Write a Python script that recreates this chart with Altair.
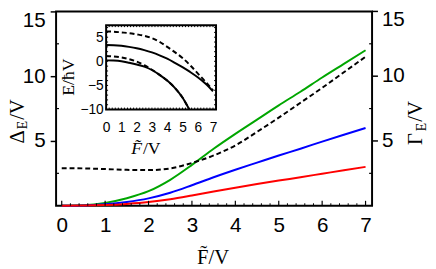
import altair as alt
import pandas as pd

# ---------------- data ----------------
main_x = [0.0, 0.5, 1.0, 1.5, 2.0, 2.5, 3.0, 3.5, 4.0, 4.5, 5.0, 5.5, 6.0, 6.5, 7.0]
green_vals = [0.0, 0.04, 0.22, 0.58, 1.12, 2.0, 3.15, 4.4, 5.55, 6.65, 7.75, 8.8, 9.9, 10.95, 12.0]
blue_vals = [0.0, 0.02, 0.11, 0.29, 0.57, 1.0, 1.58, 2.2, 2.78, 3.33, 3.88, 4.4, 4.95, 5.48, 6.0]
red_vals = [0.0, 0.01, 0.05, 0.14, 0.28, 0.5, 0.79, 1.1, 1.39, 1.67, 1.94, 2.2, 2.47, 2.74, 3.0]
dashed_vals = [2.9, 2.88, 2.83, 2.77, 2.75, 2.88, 3.3, 3.88, 4.65, 5.7, 6.8, 7.95, 9.1, 10.3, 11.5]

inset_x = [0.0, 0.5, 1.0, 1.5, 2.0, 2.5, 3.0, 3.5, 4.0, 4.5, 5.0, 5.5, 6.0, 6.5, 7.0]
inset_upper_dashed = [6.2, 6.15, 6.0, 5.85, 5.6, 5.3, 4.8, 4.05, 3.0, 1.9, 0.7, -0.8, -2.5, -4.2, -6.0]
inset_upper_solid = [3.4, 3.35, 3.22, 3.0, 2.72, 2.33, 1.85, 1.25, 0.55, -0.3, -1.2, -2.2, -3.3, -4.6, -6.2]
inset_lower_x = [0.0, 0.5, 1.0, 1.5, 2.0, 2.5, 3.0, 3.5, 4.0, 4.5, 5.0, 5.45]
inset_lower_dashed = [1.1, 1.0, 0.8, 0.45, -0.05, -0.8, -1.75, -2.8, -4.0, -5.5, -7.5, -10.0]
inset_lower_solid = [0.2, 0.15, 0.0, -0.3, -0.65, -1.1, -1.8, -2.8, -4.0, -5.5, -7.5, -10.0]

x_tick_labels = [0, 1, 2, 3, 4, 5, 6, 7]
y_tick_labels = [5, 10, 15]
y_minor = [2.5, 7.5, 12.5]
x_minor = [round(0.2 * i, 1) for i in range(36) if i % 5 != 0]
inset_x_labels = [0, 1, 2, 3, 4, 5, 6, 7]
inset_y_labels = [-10, -5, 0, 5]
inset_x_minor = [round(0.2 * i, 1) for i in range(37)]
inset_y_minor = list(range(-10, 8))

# ---------------- layout constants ----------------
W, H = 322, 198
IN_L, IN_R, IN_T, IN_B = 51, 163, 14, 100
SANS = "Liberation Sans"
SERIF = "Liberation Serif"
TOP_SHIFT = 9

xs = alt.Scale(domain=[-0.13, 7.15], nice=False, zero=False)
ys = alt.Scale(domain=[0, 15], nice=False, zero=False)

x_axis = alt.Axis(orient="bottom", values=x_tick_labels, ticks=False, tickSize=0, domain=False,
                  grid=False, labelFont=SANS, labelFontSize=21, labelColor="black",
                  labelPadding=9, labelFlush=False, title=None, format="d")
y_axis = alt.Axis(orient="left", values=y_tick_labels, tickSize=6, tickWidth=1.5, tickColor="black",
                  domain=False, grid=False, labelFont=SANS, labelFontSize=21, labelColor="black",
                  labelPadding=5, labelFlush=False, title=None, format="d",
                  labelOffset={"condition": {"test": "datum.value == 15", "value": TOP_SHIFT}, "value": 0})

X = alt.X("x:Q", scale=xs, axis=x_axis)
Y = alt.Y("v:Q", scale=ys, axis=y_axis)

main_df = pd.DataFrame({
    "x": main_x * 3,
    "v": green_vals + blue_vals + red_vals,
    "s": ["green"] * len(main_x) + ["blue"] * len(main_x) + ["red"] * len(main_x),
})
colored = alt.Chart(main_df).mark_line(strokeWidth=2, interpolate="monotone").encode(
    x=X, y=Y,
    color=alt.Color("s:N", scale=alt.Scale(domain=["green", "blue", "red"],
                                           range=["#00a600", "#0000ff", "#ff0000"]), legend=None),
)
dashed = alt.Chart(pd.DataFrame({"x": main_x, "v": dashed_vals})).mark_line(
    strokeWidth=2, color="black", strokeDash=[5, 3], interpolate="monotone").encode(x=X, y=Y)

bt_major = alt.Chart(pd.DataFrame({"x": x_tick_labels})).mark_rule(color="black", strokeWidth=1.2).encode(
    x=X, y=alt.value(H), y2=alt.value(H - 5))
bt_minor = alt.Chart(pd.DataFrame({"x": x_minor})).mark_rule(color="black", strokeWidth=1).encode(
    x=X, y=alt.value(H), y2=alt.value(H - 2.5))
left_minor = alt.Chart(pd.DataFrame({"v": y_minor})).mark_rule(color="black", strokeWidth=1.2).encode(
    y=Y, x=alt.value(0), x2=alt.value(3))
right_minor = alt.Chart(pd.DataFrame({"v": y_minor})).mark_rule(color="black", strokeWidth=1.2).encode(
    y=Y, x=alt.value(W), x2=alt.value(W - 3))
right_major = alt.Chart(pd.DataFrame({"v": y_tick_labels})).mark_rule(color="black", strokeWidth=1.5).encode(
    y=Y, x=alt.value(W), x2=alt.value(W + 6))
right_labels = alt.Chart(pd.DataFrame({"v": y_tick_labels[:-1]})).mark_text(
    font=SANS, fontSize=21, align="left", baseline="middle", color="black").encode(
    y=Y, x=alt.value(W + 10), text=alt.Text("v:Q", format="d"))
right_label_top = alt.Chart(pd.DataFrame({"v": y_tick_labels[-1:]})).mark_text(
    font=SANS, fontSize=21, align="left", baseline="middle", color="black", dy=TOP_SHIFT).encode(
    y=Y, x=alt.value(W + 10), text=alt.Text("v:Q", format="d"))


def txt(s, x, y, size, angle=0, align="left", style="normal", baseline="alphabetic"):
    mk = dict(font=SERIF, fontSize=size, align=align, baseline=baseline, color="black",
              fontStyle=style)
    if angle:
        mk["angle"] = angle
    return alt.Chart(pd.DataFrame({"t": [s]})).mark_text(**mk).encode(
        text="t:N", x=alt.value(x), y=alt.value(y))


titles = [
    txt("Δ", -33, 134.5, 21, 270),
    txt("E", -29.5, 120, 14, 270),
    txt("/V", -33, 110.5, 21, 270),
    txt("Γ", 373, 136, 21, 270),
    txt("E", 376.5, 122, 14, 270),
    txt("/V", 373, 112.5, 21, 270),
    txt("F\u0303/V", 160, 257, 21, 0, "center"),
]

main_group = alt.layer(colored, dashed, bt_major, bt_minor, left_minor, right_minor,
                       right_major, right_labels, right_label_top, *titles)

# ---------------- inset ----------------
ixs = alt.Scale(domain=[0, 7.2], range=[IN_L, IN_R], nice=False, zero=False)
iys = alt.Scale(domain=[-10, 7.5], range=[IN_B, IN_T], nice=False, zero=False)
ix_axis = alt.Axis(orient="bottom", offset=-(H - IN_B), values=inset_x_labels, ticks=False, tickSize=0,
                   domain=False, grid=False, labelFont=SANS, labelFontSize=14, labelColor="black",
                   labelPadding=11, labelFlush=False, title=None, format="d")
iy_axis = alt.Axis(orient="left", offset=-IN_L, values=inset_y_labels, ticks=False, tickSize=0,
                   domain=False, grid=False, labelFont=SANS, labelFontSize=14, labelColor="black",
                   labelPadding=3, labelFlush=False, title=None, format="d")
IX = alt.X("ix:Q", scale=ixs, axis=ix_axis)
IY = alt.Y("iv:Q", scale=iys, axis=iy_axis)

frame = alt.Chart(pd.DataFrame({"a": [0]})).mark_rect(fill="white", stroke="black", strokeWidth=2).encode(
    x=alt.value(IN_L), x2=alt.value(IN_R), y=alt.value(IN_T), y2=alt.value(IN_B))

solid_df = pd.DataFrame({
    "ix": inset_x + inset_lower_x,
    "iv": inset_upper_solid + inset_lower_solid,
    "s": ["u"] * len(inset_x) + ["l"] * len(inset_lower_x),
})
dash_df = pd.DataFrame({
    "ix": inset_x + inset_lower_x,
    "iv": inset_upper_dashed + inset_lower_dashed,
    "s": ["u"] * len(inset_x) + ["l"] * len(inset_lower_x),
})
inset_solid = alt.Chart(solid_df).mark_line(color="black", strokeWidth=2, interpolate="monotone").encode(
    x=IX, y=IY, detail="s:N")
inset_dash = alt.Chart(dash_df).mark_line(color="black", strokeWidth=2, strokeDash=[5, 3],
                                          interpolate="monotone").encode(x=IX, y=IY, detail="s:N")

itb = alt.Chart(pd.DataFrame({"ix": inset_x_minor})).mark_rule(color="black", strokeWidth=1)
inset_ticks = [
    itb.encode(x=IX, y=alt.value(IN_B), y2=alt.value(IN_B - 2)),
    itb.encode(x=IX, y=alt.value(IN_T), y2=alt.value(IN_T + 2)),
]
itl = alt.Chart(pd.DataFrame({"iv": inset_y_minor})).mark_rule(color="black", strokeWidth=1)
inset_ticks += [
    itl.encode(y=IY, x=alt.value(IN_L), x2=alt.value(IN_L + 2)),
    itl.encode(y=IY, x=alt.value(IN_R), x2=alt.value(IN_R - 2)),
]

inset_titles = [
    txt("E/ħV", 18, 67, 18, 270, "center"),
    txt("F\u0303", 87.5, 145, 18, 0, "right", "italic"),
    txt("/V", 88.5, 145, 18, 0, "left"),
]

inset_group = alt.layer(frame, inset_solid, inset_dash, *inset_ticks, *inset_titles)

chart = alt.layer(main_group, inset_group).resolve_scale(
    x="independent", y="independent"
).properties(
    width=W, height=H,
    padding={"left": 49, "top": 1, "right": 57, "bottom": 62},
    autosize=alt.AutoSizeParams(type="none"),
    background="white",
).configure_view(stroke="black", strokeWidth=2)

chart.save("out.html", embed_options={"renderer": "svg", "actions": False})
